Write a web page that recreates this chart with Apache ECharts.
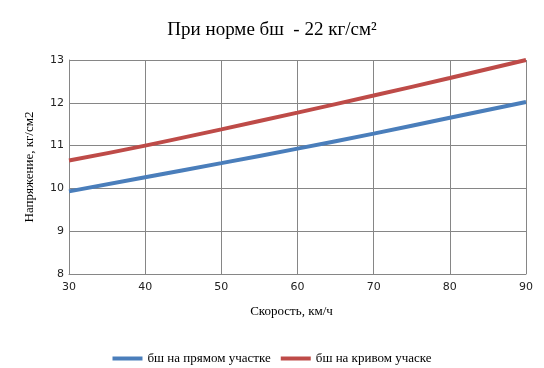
<!DOCTYPE html>
<html><head><meta charset="utf-8">
<script src="https://cdn.jsdelivr.net/npm/echarts@6/dist/echarts.min.js"></script>
<style>html,body{margin:0;padding:0;background:#fff}#c{width:544px;height:368px}</style>
</head><body><div id="c"></div>
<script>
const speeds = [30, 40, 50, 60, 70, 80, 90];
const straight = [9.93, 10.26, 10.59, 10.93, 11.28, 11.65, 12.02];
const curve = [10.65, 11.0, 11.38, 11.77, 12.17, 12.58, 13.0];
const seriesNames = ['бш на прямом участке', 'бш на кривом учаске'];

const chart = echarts.init(document.getElementById('c'));
const serif = 'Liberation Serif';
chart.setOption({
  animation: false,
  title: { text: 'При норме бш  - 22 кг/см²', left: 'center', top: 16,
    textStyle: { fontFamily: serif, fontSize: 19, fontWeight: 'normal', color: '#000' } },
  grid: { left: 69, right: 18, top: 60, bottom: 94 },
  legend: { top: 347, left: 'center', icon: 'rect', itemWidth: 30, itemHeight: 4, itemGap: 10,
    textStyle: { fontFamily: serif, fontSize: 13, color: '#000' },
    data: seriesNames },
  xAxis: { type: 'value', min: 30, max: 90, interval: 10,
    name: 'Скорость, км/ч', nameLocation: 'middle', nameGap: 31,
    nameTextStyle: { fontFamily: serif, fontSize: 13, color: '#000', padding: [0, 12, 0, 0] },
    axisLine: { lineStyle: { color: '#868686' } }, axisTick: { show: false },
    axisLabel: { fontFamily: 'DejaVu Sans', fontSize: 11, color: '#222', margin: 8 },
    splitLine: { lineStyle: { color: '#868686', width: 1 } } },
  yAxis: { type: 'value', min: 8, max: 13, interval: 1,
    name: 'Напряжение, кг/см2', nameLocation: 'middle', nameGap: 33, nameRotate: 90,
    nameTextStyle: { fontFamily: serif, fontSize: 13, color: '#000' },
    axisLine: { show: true, lineStyle: { color: '#868686' } }, axisTick: { show: false },
    axisLabel: { fontFamily: 'DejaVu Sans', fontSize: 11, color: '#222', margin: 5 },
    splitLine: { lineStyle: { color: '#868686', width: 1 } } },
  series: [
    { name: seriesNames[0], type: 'line', smooth: true, showSymbol: false,
      data: speeds.map((s, i) => [s, straight[i]]),
      itemStyle: { color: '#4a7ebb' }, lineStyle: { color: '#4a7ebb', width: 4 } },
    { name: seriesNames[1], type: 'line', smooth: true, showSymbol: false,
      data: speeds.map((s, i) => [s, curve[i]]),
      itemStyle: { color: '#be4b48' }, lineStyle: { color: '#be4b48', width: 4 } }
  ]
});
</script></body></html>
